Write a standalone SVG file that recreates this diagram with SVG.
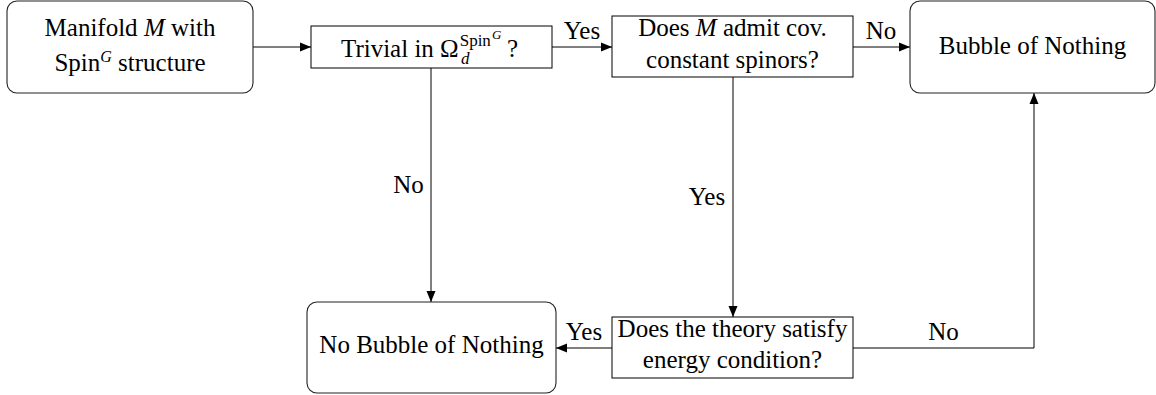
<svg xmlns="http://www.w3.org/2000/svg" width="1156" height="395" viewBox="0 0 1156 395">
  <style>
    text { font-family: "Liberation Serif", "Times New Roman", serif; font-size: 25px; fill: #000; }
    .c { text-anchor: middle; }
    .it { font-style: italic; }
    .box { fill: #fff; stroke: #000; stroke-width: 1; }
    .rbox { fill: #fff; stroke: #222; stroke-width: 1.1; }
    .edge { fill: none; stroke: #000; stroke-width: 1; }
  </style>
  <defs>
    <marker id="arr" markerUnits="userSpaceOnUse" markerWidth="12" markerHeight="10" refX="11" refY="5" orient="auto" viewBox="0 0 12 10">
      <path d="M0,0.5 L11,5 L0,9.5 Z" fill="#000"/>
    </marker>
  </defs>
  <rect width="1156" height="395" fill="#fff"/>

  <g id="connectors">
    <path class="edge" d="M253,47 H311" marker-end="url(#arr)"/>
    <path class="edge" d="M552,47 H612" marker-end="url(#arr)"/>
    <path class="edge" d="M853,47 H910" marker-end="url(#arr)"/>
    <path class="edge" d="M431,68 V302" marker-end="url(#arr)"/>
    <path class="edge" d="M733,77 V317" marker-end="url(#arr)"/>
    <path class="edge" d="M612,348 H556" marker-end="url(#arr)"/>
    <path class="edge" d="M853,348 H1034 V93" marker-end="url(#arr)"/>
    <text class="c" x="582" y="39">Yes</text>
    <text class="c" x="881" y="38.5">No</text>
    <text class="c" x="408.5" y="193">No</text>
    <text class="c" x="707" y="205">Yes</text>
    <text class="c" x="584" y="339.5">Yes</text>
    <text class="c" x="943.5" y="339.5">No</text>
  </g>

  <g id="node-manifold">
    <rect class="rbox" x="7" y="1" width="246" height="92" rx="10" ry="10"/>
    <text class="c" x="130" y="36">Manifold <tspan class="it">M</tspan> with</text>
    <text class="c" x="130" y="70.7">Spin<tspan class="it" font-size="16" dy="-9">G</tspan><tspan dy="9"> structure</tspan></text>
  </g>

  <g id="node-trivial">
    <rect class="box" x="311" y="26" width="241" height="42"/>
    <text x="341" y="57">Trivial in Ω<tspan font-size="17" dx="1" dy="-11">Spin</tspan><tspan class="it" font-size="13" dx="1" dy="-7">G</tspan><tspan class="it" font-size="17" x="461" dy="25">d</tspan><tspan x="507" dy="-7">?</tspan></text>
  </g>

  <g id="node-spinors">
    <rect class="box" x="612" y="16" width="241" height="61"/>
    <text class="c" x="732.5" y="36">Does <tspan class="it">M</tspan> admit cov.</text>
    <text class="c" x="732.5" y="67.5">constant spinors?</text>
  </g>

  <g id="node-bubble">
    <rect class="rbox" x="910" y="1" width="245" height="92" rx="10" ry="10"/>
    <text class="c" x="1032.5" y="53.5">Bubble of Nothing</text>
  </g>

  <g id="node-energy">
    <rect class="box" x="612" y="317" width="241" height="61"/>
    <text class="c" x="732.5" y="337">Does the theory satisfy</text>
    <text class="c" x="732.5" y="368">energy condition?</text>
  </g>

  <g id="node-nobubble">
    <rect class="rbox" x="307" y="302" width="249" height="91" rx="10" ry="10"/>
    <text class="c" x="431.5" y="353">No Bubble of Nothing</text>
  </g>
</svg>
